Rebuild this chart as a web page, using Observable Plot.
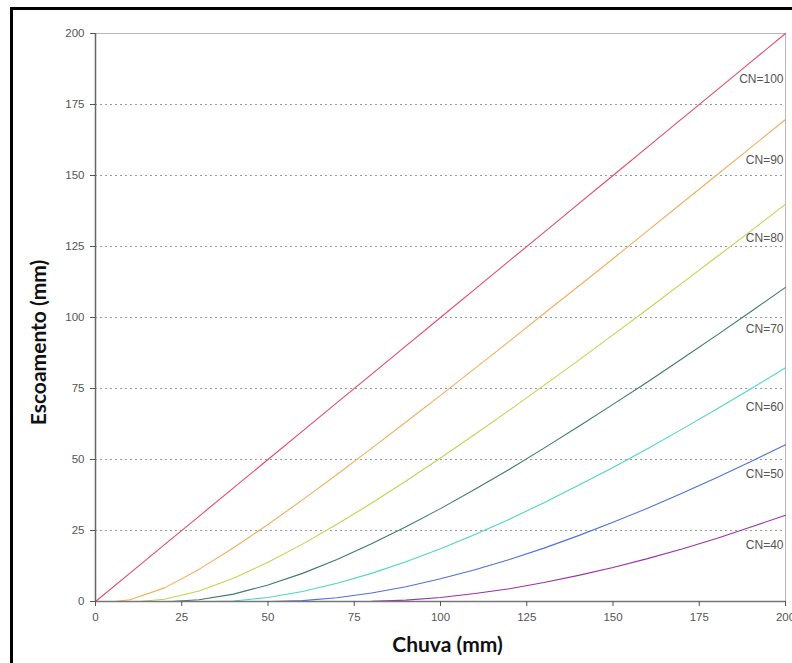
<!DOCTYPE html>
<html><head><meta charset="utf-8">
<script src="https://cdn.jsdelivr.net/npm/d3@7"></script>
<script src="https://cdn.jsdelivr.net/npm/@observablehq/plot@0.6"></script>
<style>
body{margin:0;background:#fff;overflow:hidden}
#chart{position:absolute;left:0;top:0}
#frame{position:absolute;left:10px;top:7px;width:800px;height:700px;border-left:3px solid #000;border-top:3px solid #000;pointer-events:none}
</style></head><body>
<div id="chart"></div><div id="frame"></div>
<script>
// Chuva (mm) sampling points
const rain = [0,10,20,30,40,50,60,70,80,90,100,110,120,130,140,150,160,170,180,190,200];
// Series names
const cnNames = ["CN=100","CN=90","CN=80","CN=70","CN=60","CN=50","CN=40"];
// Rain at which each curve leaves zero runoff
const startRain = [0, 5.6, 12.7, 21.8, 33.9, 50.8, 76.2];
// Escoamento (mm) values read per series at the rain points (null = zero runoff, on the axis)
const q100 = [0,10,20,30,40,50,60,70,80,90,100,110,120,130,140,150,160,170,180,190,200];
const q90  = [null,0.6,4.8,11.3,18.9,27.1,35.8,44.7,53.9,63.2,72.6,82.1,91.7,101.4,111.0,120.7,130.5,140.3,150.1,159.9,169.7];
const q80  = [null,null,0.8,3.7,8.2,13.8,20.2,27.2,34.6,42.4,50.5,58.9,67.4,76.1,84.9,93.9,102.9,112.1,121.3,130.5,139.9];
const q70  = [null,null,null,0.6,2.6,5.8,9.9,14.8,20.3,26.3,32.7,39.5,46.6,54.0,61.6,69.4,77.3,85.5,93.7,102.1,110.6];
const q60  = [null,null,null,null,0.2,1.4,3.5,6.4,9.9,14.0,18.6,23.6,29.0,34.8,40.9,47.2,53.8,60.7,67.7,74.9,82.3];
const q50  = [null,null,null,null,null,null,0.3,1.3,3.0,5.2,8.0,11.2,14.8,18.8,23.2,27.9,32.8,38.1,43.6,49.3,55.2];
const q40  = [null,null,null,null,null,null,null,null,0.04,0.5,1.4,2.8,4.5,6.7,9.2,12.0,15.1,18.5,22.2,26.2,30.4];
const series = [q100,q90,q80,q70,q60,q50,q40];
// Label heights (mm) of the CN tags at the right edge
const labelY = [184, 155.5, 127.8, 96, 68.3, 45, 19.7];
const colors = ["#e2486a","#f2ae5c","#bcd650","#3f7a6a","#4fd6c0","#4f72d4","#9a32a8"];
const yTicks = [0,25,50,75,100,125,150,175,200];
const xTicks = [0,25,50,75,100,125,150,175,200];

const rows = [];
series.forEach((vals, i) => {
  rows.push({cn: cnNames[i], x: startRain[i], y: 0});
  vals.forEach((v, j) => { if (v !== null && rain[j] > startRain[i]) rows.push({cn: cnNames[i], x: rain[j], y: v}); });
});
const labels = cnNames.map((n, i) => ({cn: n, x: 200, y: labelY[i]}));

const chart = Plot.plot({
  width: 792, height: 663,
  marginLeft: 95, marginRight: 7, marginTop: 33, marginBottom: 62,
  style: {fontFamily: "'Liberation Sans', Arial, sans-serif", background: "#fff", overflow: "visible"},
  x: {domain: [0, 200]},
  y: {domain: [0, 200]},
  color: {domain: cnNames, range: colors},
  marks: [
    Plot.ruleY(yTicks.filter(t => t > 0 && t < 200), {stroke: "#9a9a9a", strokeDasharray: "2,3", strokeWidth: 1}),
    Plot.ruleY([200], {stroke: "#b8b8b8", strokeWidth: 1}),
    Plot.ruleX([200], {stroke: "#b8b8b8", strokeWidth: 1}),
    Plot.line(rows, {x: "x", y: "y", z: "cn", stroke: "cn", strokeWidth: 1.1}),
    Plot.ruleX([0], {stroke: "#666", strokeWidth: 1.5}),
    Plot.ruleY([0], {stroke: "#777", strokeWidth: 1.5}),
    Plot.axisY({ticks: yTicks, tickSize: 5, tickPadding: 6, fontSize: 11.5, color: "#555", label: null}),
    Plot.axisX({ticks: xTicks, tickSize: 5, tickPadding: 6, fontSize: 11.5, color: "#555", label: null}),
    Plot.text(labels, {x: "x", y: "y", text: "cn", textAnchor: "end", dx: -2, fontSize: 12, fill: "#555"}),
    Plot.text(["Chuva (mm)"], {frameAnchor: "bottom", textAnchor: "middle", lineAnchor: "bottom", dx: 7, dy: 50, fontSize: 21, fontWeight: "bold", fill: "#111", fontFamily: "Lato, 'Open Sans', sans-serif"}),
    Plot.text(["Escoamento (mm)"], {frameAnchor: "left", textAnchor: "middle", rotate: -90, dx: -56, dy: 25, fontSize: 21, fontWeight: "bold", fill: "#111", fontFamily: "Lato, 'Open Sans', sans-serif"})
  ]
});
document.getElementById("chart").appendChild(chart);
</script></body></html>
